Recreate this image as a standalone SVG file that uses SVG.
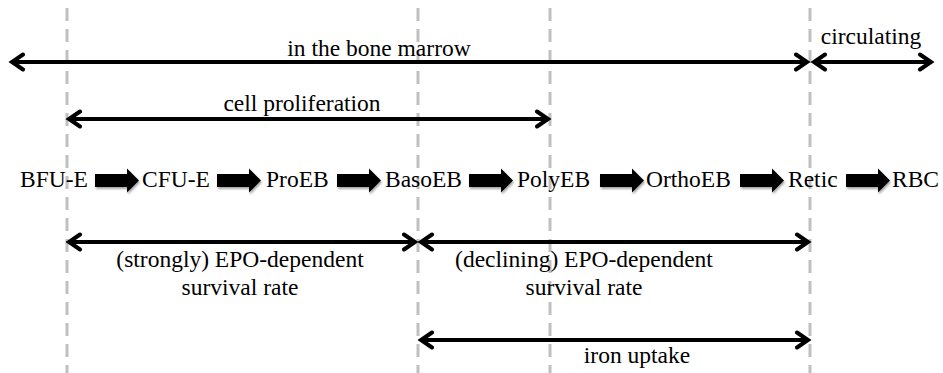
<svg xmlns="http://www.w3.org/2000/svg" width="943" height="373" viewBox="0 0 943 373">
<defs>
<marker id="ah" markerUnits="userSpaceOnUse" markerWidth="20" markerHeight="20" viewBox="-14 -10 16 20" refX="0" refY="0" orient="auto-start-reverse">
<path d="M-11,-7.5 L0,0 L-11,7.5" fill="none" stroke="#000" stroke-width="4" stroke-linecap="round" stroke-linejoin="miter"/>
</marker>
<path id="blk" d="M0,-6.5 L32,-6.5 L32,-12 L44,0 L32,12 L32,6.5 L0,6.5 Z"/>
<filter id="sh" x="-20%" y="-50%" width="140%" height="200%"><feDropShadow dx="1" dy="2" stdDeviation="1.2" flood-color="#000" flood-opacity="0.35"/></filter>
</defs>
<style>
.g{stroke:#c0c0c0;stroke-width:3;stroke-dasharray:13 8;fill:none}
.a{stroke:#000;stroke-width:4;fill:none;marker-start:url(#ah);marker-end:url(#ah)}
</style>
<rect width="943" height="373" fill="#fff"/>
<g id="guides">
<line class="g" x1="67" y1="8" x2="67" y2="373"/>
<line class="g" x1="418" y1="8" x2="418" y2="373"/>
<line class="g" x1="550" y1="8" x2="550" y2="373"/>
<line class="g" x1="810" y1="8" x2="810" y2="373"/>
</g>
<g id="connectors">
<line class="a" x1="12" y1="62" x2="807" y2="62"/>
<line class="a" x1="814" y1="62" x2="931" y2="62"/>
<line class="a" x1="69" y1="119" x2="548" y2="119"/>
<line class="a" x1="69" y1="242" x2="415" y2="242"/>
<line class="a" x1="421" y1="242" x2="808" y2="242"/>
<line class="a" x1="421" y1="340" x2="808" y2="340"/>
<g filter="url(#sh)">
<use href="#blk" x="95" y="180.5"/>
<use href="#blk" x="217" y="180.5"/>
<use href="#blk" x="337" y="180.5"/>
<use href="#blk" x="469" y="180.5"/>
<use href="#blk" x="600" y="180.5"/>
<use href="#blk" x="740" y="180.5"/>
<use href="#blk" x="846" y="180.5"/>
</g>
</g>
<g font-family="'Liberation Serif', 'Times New Roman', serif" font-size="23.5" fill="#000">
<g id="labels" text-anchor="middle">
<text x="379" y="56">in the bone marrow</text>
<text x="871" y="44">circulating</text>
<text x="302" y="111">cell proliferation</text>
<text x="240" y="267">(strongly) EPO-dependent</text>
<text x="240" y="295">survival rate</text>
<text x="584" y="267">(declining) EPO-dependent</text>
<text x="584" y="295">survival rate</text>
<text x="637" y="363">iron uptake</text>
</g>
<g id="node-bfue"><text x="20" y="187">BFU-E</text></g>
<g id="node-cfue"><text x="142" y="187">CFU-E</text></g>
<g id="node-proeb"><text x="266" y="187">ProEB</text></g>
<g id="node-basoeb"><text x="385" y="187">BasoEB</text></g>
<g id="node-polyeb"><text x="517" y="187">PolyEB</text></g>
<g id="node-orthoeb"><text x="646" y="187">OrthoEB</text></g>
<g id="node-retic"><text x="788" y="187">Retic</text></g>
<g id="node-rbc"><text x="892" y="187">RBC</text></g>
</g>
</svg>
